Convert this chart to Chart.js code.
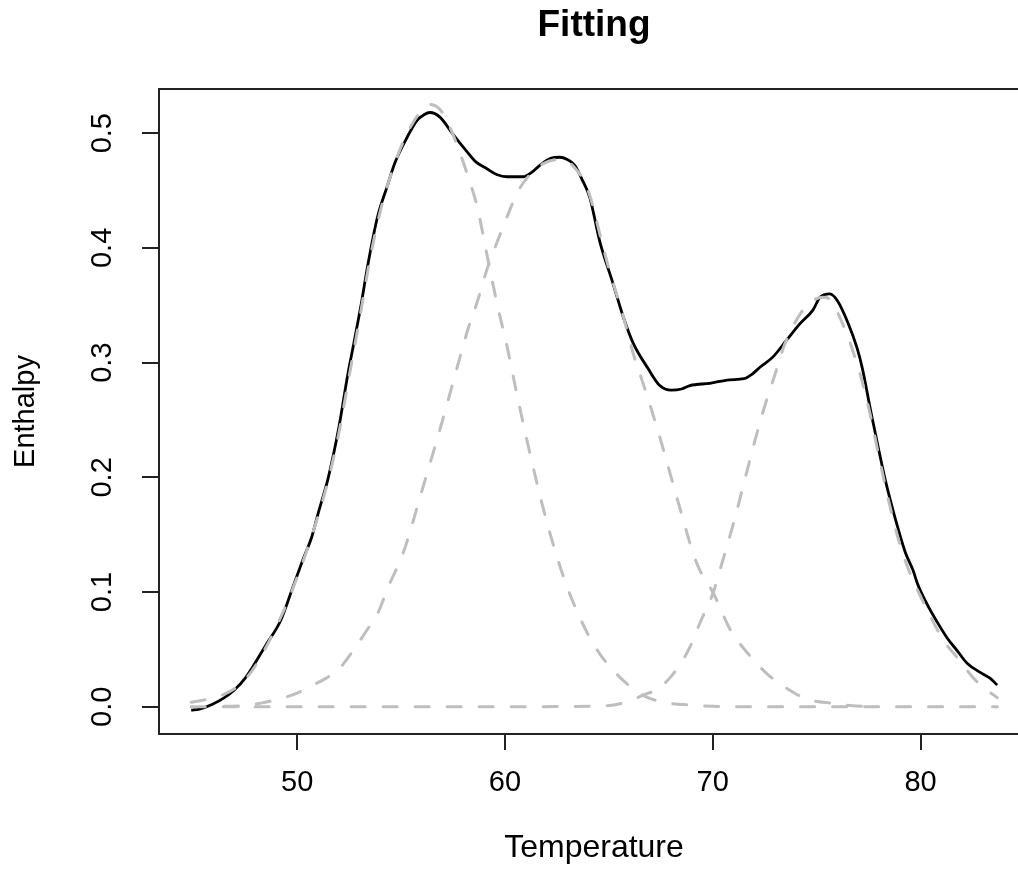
<!DOCTYPE html>
<html><head><meta charset="utf-8">
<script src="https://cdn.jsdelivr.net/npm/chart.js@4.4.1/dist/chart.umd.min.js"></script>
<style>
html,body{margin:0;padding:0;overflow:hidden;background:#fff;width:1018px;height:869px}
canvas{display:block}
</style>
</head><body>
<canvas id="c" width="1045" height="869"></canvas>
<script>
// measured curve (black)
const temperature = [
  44.9, 45.3, 45.9, 46.5, 47.0, 47.5, 47.9, 48.5, 49.2, 49.75,
  50.27, 50.7, 51.0, 51.5, 52.0, 52.44, 52.78, 53.11, 53.35, 53.64,
  53.88, 54.32, 54.7, 55.28, 55.76, 56.1, 56.39, 56.87, 57.5, 58.17,
  58.6, 59.13, 59.6, 60.1, 60.87, 61.3, 61.68, 62.2, 62.64, 63.0,
  63.36, 63.7, 64.08, 64.57, 65.2, 65.69, 66.17, 66.88, 67.45, 68.0,
  68.5, 68.9, 69.86, 70.8, 71.5, 71.9, 72.27, 72.9, 73.57, 74.2,
  74.83, 75.16, 75.64, 76.0, 76.5, 76.94, 77.2, 77.6, 78.0, 78.3,
  78.8, 79.26, 79.64, 79.84, 80.3, 80.8, 81.28, 81.76, 82.24, 82.87,
  83.34, 83.69
];
const enthalpy = [
  -0.003, -0.002, 0.002, 0.008, 0.015, 0.025, 0.036, 0.054, 0.075, 0.102,
  0.128, 0.148, 0.168, 0.2, 0.243, 0.29, 0.322, 0.354, 0.38, 0.408,
  0.428, 0.453, 0.474, 0.496, 0.511, 0.516, 0.518, 0.514, 0.499, 0.484,
  0.475, 0.469, 0.464, 0.462, 0.462, 0.466, 0.472, 0.478, 0.479, 0.477,
  0.472, 0.46, 0.444, 0.405, 0.369, 0.34, 0.317, 0.295, 0.28, 0.276,
  0.277, 0.28, 0.282, 0.285, 0.286, 0.29, 0.296, 0.305, 0.320, 0.334,
  0.346, 0.357, 0.360, 0.354, 0.335, 0.313, 0.295, 0.258, 0.223, 0.198,
  0.163, 0.135, 0.119, 0.108, 0.090, 0.074, 0.060, 0.049, 0.038, 0.030,
  0.025, 0.019
];

// fitted component 1 (grey dashed)
const peak1T = [
  44.9, 45.5, 46.0, 46.5, 47.0, 47.5, 48.0, 48.5, 49.0, 49.5,
  50.0, 50.5, 51.0, 51.5, 52.0, 52.5, 53.0, 53.5, 54.0, 54.5,
  55.0, 55.5, 56.0, 56.4, 56.9, 57.4, 57.83, 58.3, 58.65, 59.2,
  59.66, 60.09, 60.5, 61.0, 61.5, 62.0, 62.5, 63.0, 63.5, 64.0,
  64.57, 65.2, 66.0, 66.64, 67.6, 68.56, 70.0, 72.0, 76.0, 80.0,
  83.7
];
const peak1H = [
  0.004, 0.006, 0.008, 0.011, 0.016, 0.024, 0.036, 0.052, 0.07, 0.09,
  0.113, 0.138, 0.166, 0.198, 0.238, 0.288, 0.338, 0.39, 0.432, 0.463,
  0.488, 0.507, 0.52, 0.525, 0.52, 0.503, 0.483, 0.458, 0.437, 0.388,
  0.348, 0.315, 0.279, 0.237, 0.198, 0.162, 0.131, 0.104, 0.082, 0.063,
  0.046, 0.032, 0.018, 0.010, 0.004, 0.002, 0.0005, 0, 0, 0,
  0
];

// fitted component 2 (grey dashed)
const peak2T = [
  46.5, 47.5, 48.2, 49.17, 50.0, 50.76, 51.4, 52.06, 52.69, 53.36,
  53.89, 54.37, 55.1, 56.0, 57.0, 57.84, 58.2, 58.65, 59.2, 59.6,
  60.1, 60.59, 61.2, 61.8, 62.6, 63.3, 64.0, 64.72, 65.06, 65.54,
  65.88, 66.17, 66.5, 67.0, 67.5, 68.0, 68.5, 69.05, 69.38, 70.03,
  70.85, 71.67, 72.6, 73.57, 74.5, 75.76, 76.73, 77.5
];
const peak2H = [
  0.0005, 0.001, 0.003, 0.007, 0.012, 0.019, 0.025, 0.034, 0.049, 0.067,
  0.082, 0.104, 0.134, 0.188, 0.25, 0.305, 0.328, 0.352, 0.385, 0.404,
  0.427, 0.448, 0.464, 0.473, 0.477, 0.471, 0.45, 0.401, 0.378, 0.350,
  0.328, 0.308, 0.29, 0.262, 0.232, 0.2, 0.168, 0.134, 0.119, 0.099,
  0.067, 0.047, 0.029, 0.016, 0.007, 0.003, 0.001, 0
];

// fitted component 3 (grey dashed)
const peak3T = [
  44.9, 50.0, 55.0, 60.0, 63.0, 64.9, 65.8, 66.64, 67.46, 68.28,
  68.9, 69.38, 69.86, 70.03, 70.49, 71.0, 71.5, 72.0, 72.5, 73.0,
  73.4, 73.87, 74.35, 74.8, 75.3, 75.64, 76.27, 76.75, 77.2, 77.6,
  78.0, 78.5, 79.0, 79.5, 79.98, 80.5, 81.1, 81.9, 82.55, 83.1,
  83.69
];
const peak3H = [
  0, 0, 0, 0, 0.0003, 0.001, 0.004, 0.010, 0.017, 0.033,
  0.052, 0.073, 0.092, 0.100, 0.128, 0.16, 0.195, 0.23, 0.262, 0.29,
  0.313, 0.332, 0.346, 0.354, 0.357, 0.355, 0.333, 0.31, 0.283, 0.253,
  0.218, 0.177, 0.142, 0.116, 0.097, 0.078, 0.058, 0.04, 0.025, 0.016,
  0.008
];

const xTickValues = [50, 60, 70, 80];
const xTickLabels = ['50', '60', '70', '80'];
const yTickValues = [0, 0.1, 0.2, 0.3, 0.4, 0.5];
const yTickLabels = ['0.0', '0.1', '0.2', '0.3', '0.4', '0.5'];

const FONT = "'Liberation Sans', Arial, Helvetica, sans-serif";
const toPts = (xs, ys) => xs.map((x, i) => ({x: x, y: ys[i]}));

const boxPlugin = {
  id: 'box',
  afterDraw(chart) {
    const {ctx, chartArea: a} = chart;
    ctx.save();
    ctx.strokeStyle = '#222';
    ctx.lineWidth = 2;
    ctx.strokeRect(a.left, a.top, a.right - a.left, a.bottom - a.top);
    ctx.restore();
  }
};

const yLabelPlugin = {
  id: 'yTickLabels',
  afterDraw(chart) {
    const s = chart.scales.y;
    const ctx = chart.ctx;
    ctx.save();
    ctx.fillStyle = '#000';
    ctx.font = '29px ' + FONT;
    ctx.textAlign = 'center';
    ctx.textBaseline = 'middle';
    s.ticks.forEach((t, i) => {
      const py = s.getPixelForValue(t.value);
      ctx.save();
      ctx.translate(s.right - 56, py);
      ctx.rotate(-Math.PI / 2);
      ctx.fillText(yTickLabels[i], 0, 0);
      ctx.restore();
    });
    ctx.restore();
  }
};

const greyStyle = {
  borderColor: '#bebebe', borderWidth: 3, borderDash: [14, 18], borderCapStyle: 'round',
  pointRadius: 0, cubicInterpolationMode: 'monotone', fill: false, order: 1
};

new Chart(document.getElementById('c'), {
  type: 'line',
  data: {
    datasets: [
      {label: 'Data', data: toPts(temperature, enthalpy), borderColor: '#000', borderWidth: 2.8,
       pointRadius: 0, cubicInterpolationMode: 'monotone', fill: false, order: 2},
      Object.assign({label: 'Peak 1', data: toPts(peak1T, peak1H)}, greyStyle),
      Object.assign({label: 'Peak 2', data: toPts(peak2T, peak2H)}, greyStyle),
      Object.assign({label: 'Peak 3', data: toPts(peak3T, peak3H)}, greyStyle)
    ]
  },
  options: {
    responsive: false,
    animation: false,
    devicePixelRatio: 1,
    layout: {padding: {left: 0, right: 16, top: 0, bottom: 0}},
    plugins: {
      legend: {display: false},
      tooltip: {enabled: false},
      title: {
        display: true, text: 'Fitting', fullSize: false, color: '#000',
        font: {family: FONT, size: 37, weight: 'bold', lineHeight: 1.2},
        padding: {top: 4, bottom: 40.6}
      }
    },
    scales: {
      x: {
        type: 'linear', min: 43.35, max: 85.22,
        border: {display: false},
        grid: {drawOnChartArea: false, drawTicks: true, tickLength: 16, color: '#222', lineWidth: 2},
        afterBuildTicks: s => { s.ticks = xTickValues.map(v => ({value: v})); },
        ticks: {
          color: '#000', padding: 16, maxRotation: 0, autoSkip: false,
          font: {family: FONT, size: 29, lineHeight: 1.2},
          callback: (v, i) => xTickLabels[i]
        },
        title: {display: true, text: 'Temperature', color: '#000',
          font: {family: FONT, size: 32, lineHeight: 1.2}, padding: {top: 0, bottom: 2}},
        afterFit: s => { s.height = 135; }
      },
      y: {
        type: 'linear', min: -0.0237, max: 0.5385,
        border: {display: false},
        grid: {drawOnChartArea: false, drawTicks: true, tickLength: 17, color: '#222', lineWidth: 2},
        afterBuildTicks: s => { s.ticks = yTickValues.map(v => ({value: v})); },
        ticks: {display: false},
        title: {display: true, text: 'Enthalpy', color: '#000',
          font: {family: FONT, size: 29, lineHeight: 1.2}, padding: {top: 9, bottom: 0}},
        afterFit: s => { s.width = 159; }
      }
    }
  },
  plugins: [boxPlugin, yLabelPlugin]
});
</script>
</body></html>
